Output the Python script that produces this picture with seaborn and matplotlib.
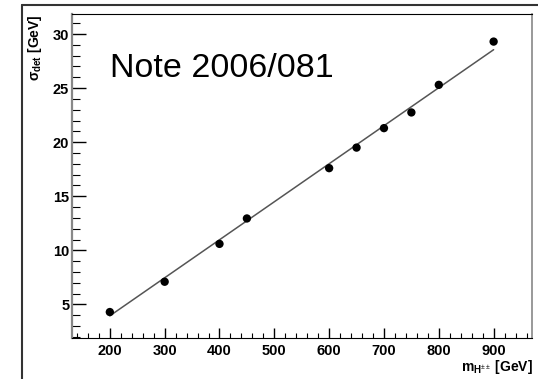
import numpy as np
import pandas as pd
import seaborn as sns
import matplotlib.pyplot as plt
from matplotlib.lines import Line2D
from matplotlib.ticker import MultipleLocator

# measured points
mass = [200, 300, 400, 450, 600, 650, 700, 750, 800, 900]
sigma = [4.3, 7.1, 10.6, 12.95, 17.6, 19.5, 21.3, 22.75, 25.3, 29.3]

# fitted straight line at its two ends
fit_mass = [200, 900]
fit_sigma = [3.95, 28.55]

df = pd.DataFrame({"m": mass, "s": sigma})
fit = pd.DataFrame({"m": fit_mass, "s": fit_sigma})

sns.set_style("ticks")
plt.rcParams['font.family'] = ['Liberation Sans', 'DejaVu Sans']
plt.rcParams['mathtext.fontset'] = 'custom'
plt.rcParams['mathtext.rm'] = 'Liberation Sans'
plt.rcParams['mathtext.bf'] = 'Liberation Sans:bold'
plt.rcParams['mathtext.it'] = 'Liberation Sans:italic'
plt.rcParams['text.color'] = 'black'
plt.rcParams['xtick.color'] = 'black'
plt.rcParams['ytick.color'] = 'black'

fig = plt.figure(figsize=(5.38, 3.79), dpi=100)
ax = fig.add_axes([72/538, 1-338/379, 460/538, 324/379])

sns.lineplot(data=fit, x="m", y="s", color="#555555", lw=1.1, ax=ax)
sns.scatterplot(data=df, x="m", y="s", color="black", s=36, edgecolor="none", ax=ax, zorder=3)

ax.set_xlim(131, 970)
ax.set_ylim(1.9, 31.85)
ax.set_xlabel("")
ax.set_ylabel("")

ax.xaxis.set_minor_locator(MultipleLocator(20))
ax.yaxis.set_minor_locator(MultipleLocator(1))
ax.set_xticks(range(200, 1000, 100))
ax.set_yticks([5, 10, 15, 20, 25, 30])

ax.tick_params(axis='x', which='major', direction='in', length=7, width=1, pad=4, labelsize=10.5)
ax.tick_params(axis='x', which='minor', direction='in', length=3.5, width=0.8)
ax.tick_params(axis='y', which='major', direction='in', length=10, width=1, pad=2, labelsize=10.5)
ax.tick_params(axis='y', which='minor', direction='in', length=5.5, width=0.8)
for lab in ax.get_xticklabels() + ax.get_yticklabels():
    lab.set_fontweight('bold')

for side in ['top', 'right', 'left', 'bottom']:
    ax.spines[side].set_visible(True)
ax.spines['left'].set_color('#888888')
ax.spines['left'].set_linewidth(1.6)
ax.spines['right'].set_color('#888888')
ax.spines['right'].set_linewidth(1.2)
ax.spines['top'].set_color('black')
ax.spines['bottom'].set_color('black')

ax.text(0.083, 0.806, "Note 2006/081", transform=ax.transAxes,
        fontsize=24.5, va='baseline', ha='left')

fig.text(35/538, 1-14/379, r'σ$_{\mathbf{det}}$ [GeV]', rotation=90,
         ha='center', va='top', fontsize=10, fontweight='bold')
fig.text(533/538, 1-358/379, r'$\mathbf{m}_{\mathbf{H}^{\pm\pm}}$ [GeV]',
         ha='right', va='top', fontsize=10, fontweight='bold')

# outer canvas frame
fig.add_artist(Line2D([22/538, 1], [1-5/379, 1-5/379], transform=fig.transFigure,
                      color='#333333', lw=1.5))
fig.add_artist(Line2D([22/538, 22/538], [0, 1-5/379], transform=fig.transFigure,
                      color='#333333', lw=1.5))

fig.savefig("out.png", dpi=100)
